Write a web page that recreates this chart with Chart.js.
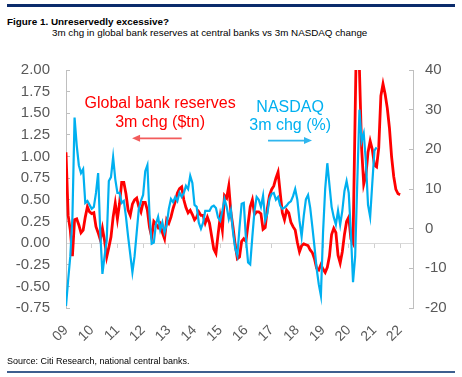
<!DOCTYPE html>
<html>
<head>
<meta charset="utf-8">
<script src="https://cdn.jsdelivr.net/npm/chart.js@4.4.1/dist/chart.umd.min.js"></script>
<style>
  body { margin: 0; width: 462px; height: 377px; overflow: hidden; background: #fff; position: relative;
         font-family: "Liberation Sans", Arial, sans-serif; color: #000; }
  #bar { position: absolute; left: 7px; top: 4px; width: 448px; height: 3px; background: #0b2b6b; }
  #title { position: absolute; left: 7px; top: 17px; font-size: 9.9px; font-weight: bold; line-height: 10px; }
  #sub { position: absolute; left: 52px; top: 28px; font-size: 9.8px; line-height: 10px; }
  #src { position: absolute; left: 7px; top: 357px; font-size: 9px; line-height: 9px; }
  #rule { position: absolute; left: 7px; top: 370.5px; width: 448px; height: 2px; background: #3e5f8f; }
  canvas { position: absolute; left: 0; top: 0; }
</style>
</head>
<body>
<div id="bar"></div>
<div id="title">Figure 1. Unreservedly excessive?</div>
<div id="sub">3m chg in global bank reserves at central banks vs 3m NASDAQ change</div>
<canvas id="chart" width="462" height="377"></canvas>
<div id="src">Source: Citi Research, national central banks.</div>
<div id="rule"></div>
<script>
// monthly series, first point = Jan 2009
const START_YEAR = 2009;
const yearLabels = ['09', '10', '11', '12', '13', '14', '15', '16', '17', '18', '19', '20', '21', '22'];

// 3m change in global bank reserves, $tn (left axis)
const reserves3m = [
  1.05, 0.32, 0.15, -0.15, 0.27, 0.28, 0.21, 0.12, 0.15, 0.30, 0.42, 0.36,
  0.34, 0.35, 0.19, 0.12, 0.04, 0.17, 0.03, -0.16, -0.05, 0.07, 0.30, 0.46,
  0.28, 0.46, 0.70, 0.70, 0.57, 0.38, 0.32, 0.45, 0.50, 0.52, 0.42, 0.36,
  0.47, 0.47, 0.38, 0.18, 0.07, 0.25, 0.22, 0.18, 0.22, 0.12, 0.05, 0.27,
  0.23, 0.30, 0.40, 0.48, 0.58, 0.63, 0.65, 0.50, 0.41, 0.35, 0.38, 0.33,
  0.27, 0.30, 0.36, 0.32, 0.32, 0.23, 0.30, 0.23, 0.08, -0.07, -0.12, 0.10,
  0.30, 0.15, 0.55, 0.52, 0.66, 0.35, 0.18, -0.02, -0.18, -0.16, 0.02, 0.05,
  0.02, 0.22, 0.42, 0.50, 0.33, 0.36, 0.36, 0.34, 0.16, 0.18, 0.40, 0.55,
  0.62, 0.66, 0.75, 0.82, 0.58, 0.35, 0.27, 0.38, 0.35, 0.24, 0.19, 0.15,
  0.01, -0.10, -0.03, -0.01, -0.02, -0.03, -0.08, -0.11, -0.18, -0.29, -0.31, -0.25,
  -0.30, -0.34, -0.28, -0.15, 0.10, 0.17, 0.12, -0.14, -0.23, -0.10, 0.10, 0.25,
  0.30, 0.05, 0.00, 1.50, 3.00, 2.00, 1.10, 0.68, 0.78, 1.05, 1.18, 1.08,
  0.90, 0.88, 1.10, 1.70, 1.84, 1.72, 1.56, 1.33, 1.00, 0.77, 0.62, 0.57, 0.56
];

// 3m change in NASDAQ, % (right axis)
const nasdaq3m = [
  -19.5, -13, -7, 3, 28, 21, 16, 14, 15, 6.5, 7, 6,
  5, 5.5, 9, 14, -1, -11.4, -7, -3, 12, 13, 18, 12.5,
  9, 9, 6.5, 7, 3, -2, -6.5, -11, -7, -1, 5, 7,
  8.5, 14.5, 16, 3.5, -3.8, -3.5, 1.2, 3, -0.3, 1.6, -1, 1,
  5, 7.5, 6.7, 8, 7, 9.1, 8, 9, 10.8, 10, 13.3, 11.5,
  6, 5.5, 1.5, 0, 1.5, 4.5, 4.5, 4.5, 5.5, 5.8, 5.2, 2.8,
  2, 4.5, 7.5, 5.5, 2.5, 4.6, -1, -5, -6.8, 0.3, 6.3, 6.5,
  -2.5, -8.5, -9, -2, 4.5, 8, 7.3, 5.5, 8.3, 2.1, 3.8, 7.5,
  8.8, 9, 7.3, 8, 5.8, 5, 5.3, 5.8, 6.5, 6.9, 8.2, 10,
  7.3, 2, -2, 3.2, 7.4, 8.5, 5.3, 0.5, -4.5, -10, -14, -16.9,
  -1, 10, 16.5, 11, 5.5, 2.9, 1, 4.5, 1, 4.5, 9.5, 12,
  9, -1, -13.5, -7, 12, 30, 22, 24, 17, 6, 3, 11.5,
  19.7, 20.5
];

const RED = '#ff0000';
const BLUE = '#00b0f0';
const GREY_TXT = '#595959';
const AXIS = '#bfbfbf';

const toPoints = arr => arr.map((v, i) => ({ x: START_YEAR + i / 12, y: v }));

// text labels inside the plot, placed in axis units
const notes = [
  { lines: ['Global bank reserves', '3m chg ($tn)'], color: RED, yAxis: 'y', x: 2012.66, y: [1.61, 1.39],
    arrow: { from: 2013.5, to: 2011.57, y: 1.21, color: '#f25c5c' } },
  { lines: ['NASDAQ', '3m chg (%)'], color: BLUE, yAxis: 'y2', x: 2017.72, y: [30.6, 25.9],
    arrow: { from: 2016.86, to: 2018.57, y: 22.2, color: '#2fb6ee' } }
];

const notesPlugin = {
  id: 'notes',
  afterDatasetsDraw(chart) {
    const ctx = chart.ctx;
    const xs = chart.scales.x;
    ctx.save();
    ctx.font = '16px "Liberation Sans", Arial, sans-serif';
    ctx.textAlign = 'center';
    ctx.textBaseline = 'middle';
    notes.forEach(n => {
      const ys = chart.scales[n.yAxis];
      ctx.fillStyle = n.color;
      n.lines.forEach((t, k) => ctx.fillText(t, xs.getPixelForValue(n.x), ys.getPixelForValue(n.y[k])));
      const a = n.arrow;
      const x1 = xs.getPixelForValue(a.from), x2 = xs.getPixelForValue(a.to), y = ys.getPixelForValue(a.y);
      const dir = Math.sign(x2 - x1);
      ctx.strokeStyle = a.color;
      ctx.fillStyle = a.color;
      ctx.lineWidth = 1.6;
      ctx.beginPath();
      ctx.moveTo(x1, y);
      ctx.lineTo(x2 - dir * 6, y);
      ctx.stroke();
      ctx.beginPath();
      ctx.moveTo(x2, y);
      ctx.lineTo(x2 - dir * 8, y - 3.5);
      ctx.lineTo(x2 - dir * 8, y + 3.5);
      ctx.closePath();
      ctx.fill();
    });
    ctx.restore();
  }
};

Chart.defaults.font.family = '"Liberation Sans", Arial, sans-serif';

new Chart(document.getElementById('chart'), {
  type: 'line',
  data: {
    datasets: [
      {
        label: 'NASDAQ 3m chg (%)',
        data: toPoints(nasdaq3m),
        yAxisID: 'y2',
        borderColor: BLUE,
        borderWidth: 2.2,
        pointRadius: 0,
        tension: 0
      },
      {
        label: 'Global bank reserves 3m chg ($tn)',
        data: toPoints(reserves3m),
        yAxisID: 'y',
        borderColor: RED,
        borderWidth: 2.8,
        pointRadius: 0,
        tension: 0
      }
    ]
  },
  options: {
    responsive: false,
    animation: false,
    devicePixelRatio: 1,
    layout: { padding: { top: 70, left: 0, right: 0, bottom: 0 } },
    plugins: { legend: { display: false }, tooltip: { enabled: false } },
    scales: {
      x: {
        type: 'linear',
        position: 'bottom',
        min: START_YEAR,
        max: 2022.5,
        border: { display: false },
        grid: { display: false, drawTicks: false },
        ticks: {
          stepSize: 1,
          includeBounds: false,
          autoSkip: false,
          minRotation: 45,
          maxRotation: 45,
          padding: 14,
          color: GREY_TXT,
          font: { size: 14 },
          callback: v => yearLabels[Math.round(v) - START_YEAR] ?? ''
        },
        afterFit: s => { s.height = 69; }
      },
      x0: {
        type: 'linear',
        position: { y: 0 },
        min: START_YEAR,
        max: 2022.5,
        border: { color: '#d9d9d9', width: 1 },
        grid: { drawOnChartArea: false, tickLength: 4, color: '#d0d0d0' },
        ticks: { display: false, stepSize: 1, includeBounds: false }
      },
      y: {
        position: 'left',
        min: -0.75,
        max: 2,
        border: { color: AXIS },
        grid: { drawOnChartArea: false, tickLength: -4, color: AXIS },
        ticks: {
          stepSize: 0.25,
          padding: 20,
          color: GREY_TXT,
          font: { size: 15 },
          callback: v => v.toFixed(2)
        },
        afterFit: s => { s.width = 66; }
      },
      y2: {
        position: 'right',
        min: -20,
        max: 40,
        border: { color: AXIS },
        grid: { drawOnChartArea: false, tickLength: -4, color: AXIS },
        ticks: {
          stepSize: 10,
          padding: 16,
          color: GREY_TXT,
          font: { size: 15 }
        },
        afterFit: s => { s.width = 49; }
      }
    }
  },
  plugins: [notesPlugin]
});
</script>
</body>
</html>
